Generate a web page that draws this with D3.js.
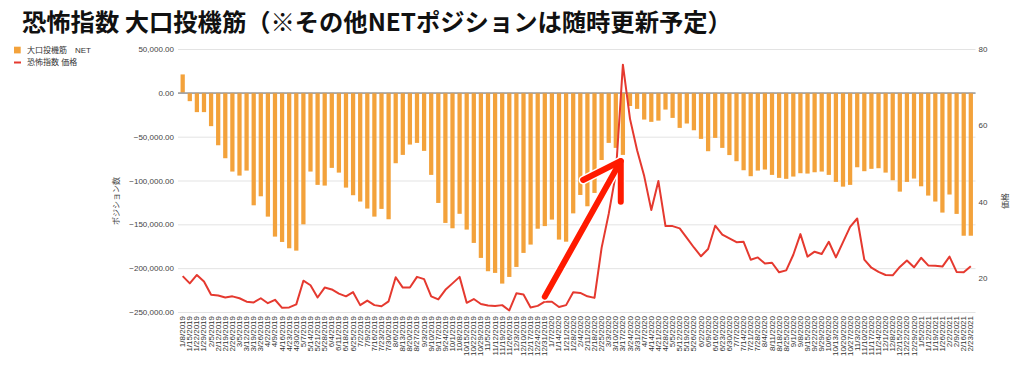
<!DOCTYPE html>
<html>
<head>
<meta charset="utf-8">
<script src="https://cdn.jsdelivr.net/npm/d3@7"></script>
<style>
    body { margin: 0; background: #fff; }
    text { font-family: "Liberation Sans", Arial, "Noto Sans CJK JP", sans-serif; }
    .title { font-family: "Noto Sans CJK JP", sans-serif; font-weight: bold; }
</style>
</head>
<body>
<div id="chart"></div>
<script>
/*
    Default variables
*/
var width = 1024;
var height = 372;
var plot = { left: 178, right: 975.5, top: 49, bottom: 312 };

var TITLE = "恐怖指数 大口投機筋（※その他NETポジションは随時更新予定）";
var BAR_NAME = "大口投機筋　NET";
var LINE_NAME = "恐怖指数 価格";
var BAR_COLOR = "#f3a23b";
var LINE_COLOR = "#e5392f";

/* weekly report dates (categories) */
var dates = [
    "1/8/2019","1/15/2019","1/22/2019","1/29/2019","2/5/2019","2/12/2019","2/19/2019","2/26/2019",
    "3/5/2019","3/12/2019","3/19/2019","3/26/2019","4/2/2019","4/9/2019","4/16/2019","4/23/2019",
    "4/30/2019","5/7/2019","5/14/2019","5/21/2019","5/28/2019","6/4/2019","6/11/2019","6/18/2019",
    "6/25/2019","7/2/2019","7/9/2019","7/16/2019","7/23/2019","7/30/2019","8/6/2019","8/13/2019",
    "8/20/2019","8/27/2019","9/3/2019","9/10/2019","9/17/2019","9/24/2019","10/1/2019","10/8/2019",
    "10/15/2019","10/22/2019","10/29/2019","11/5/2019","11/12/2019","11/19/2019","11/26/2019","12/3/2019",
    "12/10/2019","12/17/2019","12/24/2019","12/31/2019",
    "1/7/2020","1/14/2020","1/21/2020","1/28/2020","2/4/2020","2/11/2020","2/18/2020","2/25/2020",
    "3/3/2020","3/10/2020","3/17/2020","3/24/2020","3/31/2020","4/7/2020","4/14/2020","4/21/2020",
    "4/28/2020","5/5/2020","5/12/2020","5/19/2020","5/26/2020","6/2/2020","6/9/2020","6/16/2020",
    "6/23/2020","6/30/2020","7/7/2020","7/14/2020","7/21/2020","7/28/2020","8/4/2020","8/11/2020",
    "8/18/2020","8/25/2020","9/1/2020","9/8/2020","9/15/2020","9/22/2020","9/29/2020","10/6/2020",
    "10/13/2020","10/20/2020","10/27/2020","11/3/2020","11/10/2020","11/17/2020","11/24/2020","12/1/2020",
    "12/8/2020","12/15/2020","12/22/2020","12/29/2020",
    "1/5/2021","1/12/2021","1/19/2021","1/26/2021","2/2/2021","2/9/2021","2/16/2021","2/23/2021"
];

/* large speculators net position (left axis) */
var netPositions = [
    21000, -9500, -22000, -22000, -38000, -59800, -74600, -89800,
    -94400, -88700, -128300, -118000, -141200, -164000, -170100, -177300,
    -180000, -150000, -89800, -105000, -105800, -85600, -91000, -108100,
    -116800, -124000, -132000, -141200, -132400, -144200, -80300, -70800,
    -59000, -57100, -66200, -93600, -125600, -148400, -154500, -138000,
    -156000, -171200, -188300, -203500, -205400, -217600, -210000, -198600,
    -182600, -173100, -155000, -152000,
    -144600, -167400, -169800, -137500, -116500, -129400, -114200, -76600,
    -57100, -62800, -70800, -15000, -18300, -30500, -33100, -31700,
    -19100, -28600, -40000, -35000, -42700, -52500, -66600, -51400,
    -62800, -71000, -78000, -88300, -95100, -88700, -87500, -93600,
    -97000, -98100, -95500, -91700, -92100, -90600, -89800, -93600,
    -101600, -107000, -105000, -84900, -89400, -86700, -86000, -91000,
    -99700, -112700, -101600, -97800,
    -106600, -117200, -124000, -136600, -116000, -138100, -163000, -163000
];

/* VIX price (right axis) */
var vixPrice = [
    20.5, 18.6, 20.8, 19.1, 15.6, 15.4, 14.9, 15.2,
    14.7, 13.8, 13.6, 14.7, 13.4, 14.3, 12.2, 12.3,
    13.1, 19.3, 18.1, 14.9, 17.5, 17.0, 15.9, 15.2,
    16.3, 12.9, 14.1, 12.9, 12.6, 13.9, 20.2, 17.5,
    17.5, 20.3, 19.7, 15.2, 14.4, 16.9, 18.6, 20.3,
    13.5, 14.5, 13.2, 12.8, 12.7, 12.9, 11.5, 16.0,
    15.7, 12.3, 12.7, 13.8,
    13.8, 12.4, 12.9, 16.3, 16.1, 15.2, 14.8, 27.9,
    36.8, 47.3, 75.9, 61.7, 53.5, 46.7, 37.8, 45.4,
    33.6, 33.6, 33.0, 30.5, 28.0, 25.7, 27.6, 33.7,
    31.4, 30.4, 29.4, 29.5, 24.8, 25.4, 23.8, 24.0,
    21.5, 22.0, 26.1, 31.5, 25.6, 26.9, 26.3, 29.5,
    25.4, 29.4, 33.4, 35.6, 24.8, 22.7, 21.6, 20.8,
    20.7, 22.9, 24.6, 22.8,
    25.3, 23.3, 23.2, 23.0, 25.6, 21.6, 21.5, 23.1
];

/* axis ticks */
var leftTicks = [50000, 0, -50000, -100000, -150000, -200000, -250000];
var rightTicks = [20, 40, 60, 80];
var leftDomain = [-250000, 50000];
var rightDomain = [11.1, 80];

/* hand drawn arrow: [category index, net position] */
var arrowShaft = [[51, -232500], [61.7, -77800]];
var arrowHead = [[56.4, -99400], [61.7, -77800], [61.7, -124200]];

/*
    Scales
*/
var x = d3.scaleBand()
    .domain(dates)
    .range([plot.left, plot.right])
    .paddingInner(0.4)
    .paddingOuter(0.36);

var yLeft = d3.scaleLinear()
    .domain(leftDomain)
    .range([plot.bottom, plot.top]);

var yRight = d3.scaleLinear()
    .domain(rightDomain)
    .range([plot.bottom, plot.top]);

// center of a (possibly fractional) category index
function xi(i) {
    return x(dates[0]) + x.bandwidth() / 2 + i * x.step();
}

var svg = d3.select("#chart")
    .append("svg")
    .attr("width", width)
    .attr("height", height);

/* Title */
svg.append("text")
    .attr("class", "title")
    .attr("x", 22)
    .attr("y", 20)
    .attr("dominant-baseline", "central")
    .style("font-size", "24.3px")
    .style("fill", "#111")
    .text(TITLE);

/* Legend */
svg.append("rect")
    .attr("x", 14).attr("y", 46.7)
    .attr("width", 6.7).attr("height", 6.7)
    .style("fill", BAR_COLOR);
svg.append("text")
    .attr("x", 27).attr("y", 50)
    .attr("dominant-baseline", "central")
    .style("font-size", "8px").style("fill", "#333")
    .text(BAR_NAME);
svg.append("line")
    .attr("x1", 14).attr("x2", 21)
    .attr("y1", 62.5).attr("y2", 62.5)
    .style("stroke", LINE_COLOR).style("stroke-width", 2);
svg.append("text")
    .attr("x", 27).attr("y", 62.5)
    .attr("dominant-baseline", "central")
    .style("font-size", "8px").style("fill", "#333")
    .text(LINE_NAME);

/*
    Gridlines + left axis
*/
var leftAxis = svg.append("g")
    .attr("transform", "translate(" + plot.left + ",0)")
    .call(d3.axisLeft(yLeft)
        .tickValues(leftTicks)
        .tickSize(-(plot.right - plot.left))
        .tickPadding(4)
        .tickFormat(d3.format(",.2f")));
leftAxis.select(".domain").remove();
leftAxis.selectAll(".tick line")
    .style("stroke", function (d) { return d === 0 ? "#9a9a9a" : "#e3e3e3"; })
    .style("stroke-width", 1);
leftAxis.selectAll(".tick text")
    .style("font-size", "8px")
    .style("fill", "#444");

/* Right axis */
var rightAxis = svg.append("g")
    .attr("transform", "translate(" + plot.right + ",0)")
    .call(d3.axisRight(yRight)
        .tickValues(rightTicks)
        .tickSize(0)
        .tickPadding(3)
        .tickFormat(d3.format("d")));
rightAxis.select(".domain").remove();
rightAxis.selectAll(".tick text")
    .style("font-size", "8px")
    .style("fill", "#444");

/* Axis titles */
svg.append("text")
    .attr("transform", "translate(116,201) rotate(-90)")
    .attr("text-anchor", "middle")
    .attr("dominant-baseline", "central")
    .style("font-size", "8px").style("fill", "#444")
    .text("ポジション数");
svg.append("text")
    .attr("transform", "translate(1005,201) rotate(-90)")
    .attr("text-anchor", "middle")
    .attr("dominant-baseline", "central")
    .style("font-size", "8px").style("fill", "#444")
    .text("価格");

/*
    Bars (net positions)
*/
svg.selectAll(".bar")
    .data(netPositions)
    .enter().append("rect")
    .attr("class", "bar")
    .attr("x", function (d, i) { return x(dates[i]); })
    .attr("width", x.bandwidth())
    .attr("y", function (d) { return yLeft(Math.max(0, d)); })
    .attr("height", function (d) { return Math.abs(yLeft(d) - yLeft(0)); })
    .style("fill", BAR_COLOR);

// zero line drawn again on top of bars
svg.append("line")
    .attr("x1", plot.left).attr("x2", plot.right)
    .attr("y1", yLeft(0)).attr("y2", yLeft(0))
    .style("stroke", "#9a9a9a").style("stroke-width", 1);

/* X axis labels */
var xAxis = svg.append("g")
    .attr("transform", "translate(0," + plot.bottom + ")")
    .call(d3.axisBottom(x).tickSize(0).tickPadding(0));
xAxis.select(".domain").remove();
xAxis.selectAll(".tick text")
    .attr("transform", "rotate(-90)")
    .attr("x", -4)
    .attr("y", 0)
    .attr("dy", null)
    .attr("text-anchor", "end")
    .attr("dominant-baseline", "central")
    .style("font-size", "8px")
    .style("fill", "#333");

/*
    VIX line
*/
var line = d3.line()
    .x(function (d, i) { return xi(i); })
    .y(function (d) { return yRight(d); });

svg.append("path")
    .datum(vixPrice)
    .attr("d", line)
    .style("fill", "none")
    .style("stroke", LINE_COLOR)
    .style("stroke-width", 2)
    .style("stroke-linejoin", "round");

/*
    Hand drawn arrow annotation (white outline under red stroke)
*/
var arrowLine = d3.line()
    .x(function (d) { return xi(d[0]); })
    .y(function (d) { return yLeft(d[1]); });

[arrowShaft, arrowHead].forEach(function (pts) {
    svg.append("path")
        .attr("d", arrowLine(pts))
        .style("fill", "none")
        .style("stroke", "#fff")
        .style("stroke-width", 9)
        .style("stroke-linecap", "round")
        .style("stroke-linejoin", "round");
});
[arrowShaft, arrowHead].forEach(function (pts) {
    svg.append("path")
        .attr("d", arrowLine(pts))
        .style("fill", "none")
        .style("stroke", "#ff1a00")
        .style("stroke-width", 6)
        .style("stroke-linecap", "round")
        .style("stroke-linejoin", "round");
});
</script>
</body>
</html>
